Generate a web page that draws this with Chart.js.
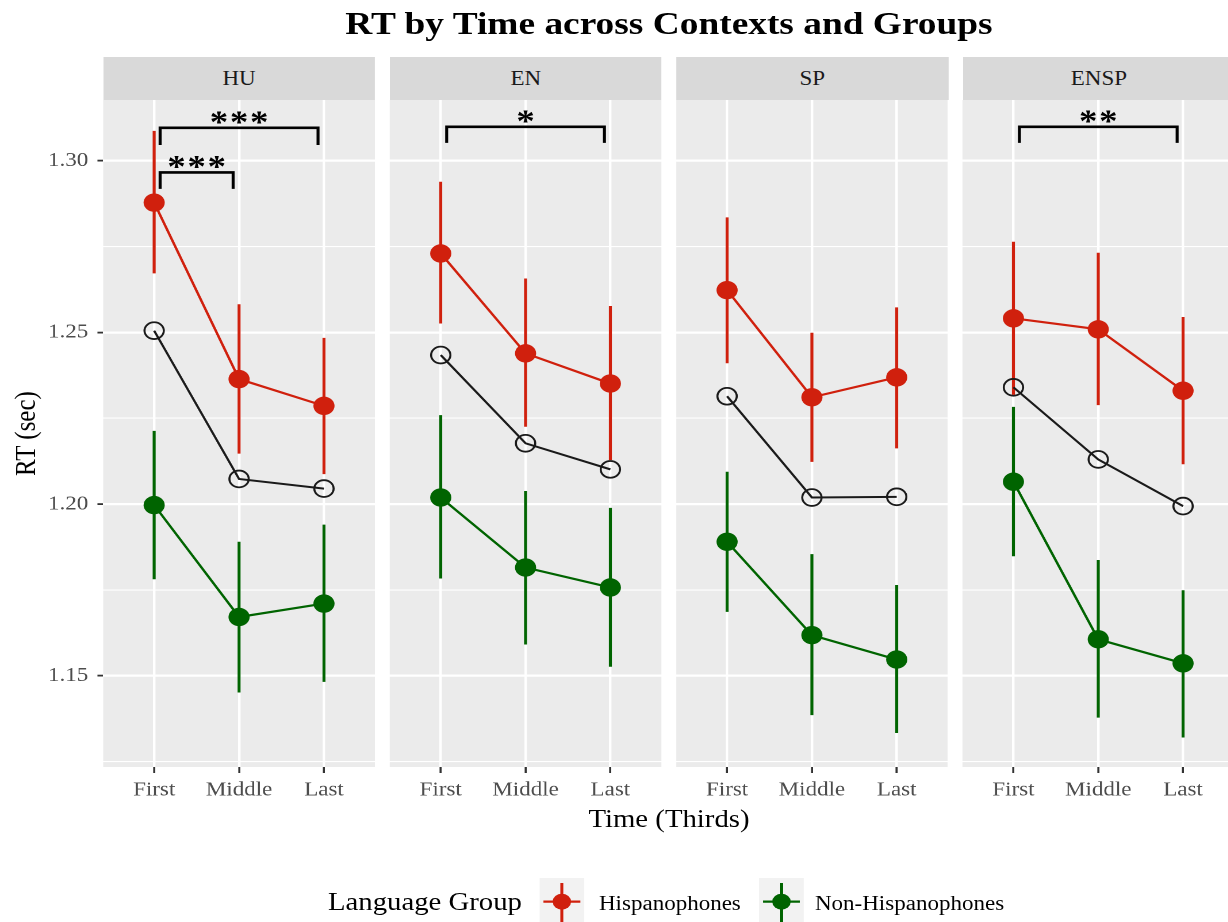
<!DOCTYPE html>
<html>
<head>
<meta charset="utf-8">
<script src="https://cdn.jsdelivr.net/npm/chart.js@4.4.1/dist/chart.umd.min.js"></script>
<style>
html, body { margin: 0; padding: 0; background: #fff; overflow: hidden; width: 1228px; height: 922px; }
#page { position: absolute; left: 0; top: 0; height: 922px; transform-origin: 0 0;
        font-family: 'Liberation Serif', 'Times New Roman', serif; }
.abs { position: absolute; white-space: nowrap; }
.strip { position: absolute; background: #D9D9D9; color: #1A1A1A; font-size: 20px;
         display: flex; align-items: center; justify-content: center; }
canvas { position: absolute; }
</style>
</head>
<body>
<div id="page"></div>
<script>
// ---- data ----
const contexts = ['HU', 'EN', 'SP', 'ENSP'];
const times = ['First', 'Middle', 'Last'];
const groups = ['Hispanophones', 'Non-Hispanophones'];

// one row per context, one value per third
const hispMean = [
    [1.2878, 1.2364, 1.2286],
    [1.2730, 1.2439, 1.2351],
    [1.2623, 1.2311, 1.2369],
    [1.2541, 1.2509, 1.2330]
];
const hispLow = [
    [1.2672, 1.2147, 1.2087],
    [1.2526, 1.2225, 1.2128],
    [1.2410, 1.2123, 1.2162],
    [1.2318, 1.2288, 1.2116]
];
const hispHigh = [
    [1.3087, 1.2582, 1.2484],
    [1.2939, 1.2657, 1.2577],
    [1.2835, 1.2499, 1.2573],
    [1.2764, 1.2732, 1.2545]
];
const nonMean = [
    [1.1997, 1.1671, 1.1710],
    [1.2019, 1.1815, 1.1757],
    [1.1890, 1.1618, 1.1547],
    [1.2065, 1.1606, 1.1536]
];
const nonLow = [
    [1.1781, 1.1451, 1.1482],
    [1.1783, 1.1591, 1.1526],
    [1.1686, 1.1385, 1.1333],
    [1.1848, 1.1378, 1.1320]
];
const nonHigh = [
    [1.2213, 1.1890, 1.1940],
    [1.2259, 1.2038, 1.1989],
    [1.2094, 1.1854, 1.1764],
    [1.2283, 1.1837, 1.1749]
];
const allMean = [
    [1.2505, 1.2073, 1.2045],
    [1.2434, 1.2177, 1.2101],
    [1.2314, 1.2019, 1.2021],
    [1.2340, 1.2130, 1.1994]
];

const yMajorTicks = [1.15, 1.20, 1.25, 1.30];
const yMinorTicks = [1.125, 1.175, 1.225, 1.275];
const yMin = 1.1234;
const yMax = 1.3177;

// significance brackets
const bracketContext = [0, 0, 1, 3];
const bracketFrom = [0, 0, 0, 0];
const bracketTo = [2, 1, 2, 2];
const bracketLine = [1.3096, 1.2966, 1.3099, 1.3099];
const bracketTip = [1.3046, 1.2918, 1.3052, 1.3052];
const bracketLabel = ['***', '***', '*', '**'];

// ---- layout (picture is stretched horizontally) ----
const S = 1.15;
const panelLeft0 = 103.3, panelStep = 286.6, panelW = 271.7;
const panelTop = 100, panelBottom = 767, xAxisH = 50;
const RED = '#D0200D', GREEN = '#006400', BLACK = '#1A1A1A';
const FONT = "'Liberation Serif', 'Times New Roman', serif";

const page = document.getElementById('page');
page.style.width = (1228 / S) + 'px';
page.style.transform = 'scaleX(' + S + ')';

function addText(txt, left, top, size, opts = {}) {
    const d = document.createElement('div');
    d.className = 'abs';
    d.textContent = txt;
    d.style.left = left + 'px';
    d.style.top = top + 'px';
    d.style.fontSize = size + 'px';
    d.style.lineHeight = size + 'px';
    d.style.color = opts.color || '#000';
    if (opts.bold) d.style.fontWeight = 'bold';
    if (opts.width) { d.style.width = opts.width + 'px'; d.style.textAlign = 'center'; }
    page.appendChild(d);
    return d;
}

// title
addText('RT by Time across Contexts and Groups', 669 / S - 400, 34 - 0.8375 * 32.5, 32.5, { bold: true, width: 800 });
// x axis title
addText('Time (Thirds)', 669 / S - 200, 826.7 - 0.8375 * 25, 25, { width: 400 });
// y axis title (rotated)
const yt = addText('RT (sec)', 22 - 100, (panelTop + panelBottom) / 2 - 12.5, 25, { width: 200 });
yt.style.transform = 'rotate(-90deg)';

// legend
addText('Language Group', 328 / S, 910 - 0.8375 * 25, 25);
function legendKey(left, color) {
    const w = 45 / S;
    const ns = 'http://www.w3.org/2000/svg';
    const svg = document.createElementNS(ns, 'svg');
    svg.setAttribute('width', w);
    svg.setAttribute('height', 45);
    svg.style.position = 'absolute';
    svg.style.left = left + 'px';
    svg.style.top = '878px';
    svg.innerHTML =
        '<rect x="0" y="0" width="' + w + '" height="45" fill="#F2F2F2"/>' +
        '<line x1="' + w / 2 + '" y1="5" x2="' + w / 2 + '" y2="45" stroke="' + color + '" stroke-width="2.6"/>' +
        '<line x1="3.5" y1="23.7" x2="' + (w - 3.5) + '" y2="23.7" stroke="' + color + '" stroke-width="2.2"/>' +
        '<circle cx="' + w / 2 + '" cy="23.7" r="8" fill="' + color + '"/>';
    page.appendChild(svg);
}
legendKey(539 / S, RED);
addText(groups[0], 599 / S, 909.3 - 0.8375 * 20, 20);
legendKey(759 / S, GREEN);
addText(groups[1], 815 / S, 909.3 - 0.8375 * 20, 20);

// ---- plugins ----
const panelBg = {
    id: 'panelBg',
    beforeDraw(chart) {
        const a = chart.chartArea, ctx = chart.ctx;
        ctx.save();
        ctx.fillStyle = '#EBEBEB';
        ctx.fillRect(a.left, a.top, a.right - a.left, a.bottom - a.top);
        ctx.restore();
    }
};

const errorBars = {
    id: 'errorBars',
    beforeDatasetsDraw(chart) {
        const ctx = chart.ctx, x = chart.scales.x, y = chart.scales.y;
        chart.data.datasets.forEach(ds => {
            if (!ds.errLow) return;
            ctx.save();
            ctx.strokeStyle = ds.borderColor;
            ctx.lineWidth = 2.6;
            ds.errLow.forEach((lo, i) => {
                const px = x.getPixelForValue(i);
                ctx.beginPath();
                ctx.moveTo(px, y.getPixelForValue(lo));
                ctx.lineTo(px, y.getPixelForValue(ds.errHigh[i]));
                ctx.stroke();
            });
            ctx.restore();
        });
    }
};

function bracketPlugin(p) {
    return {
        id: 'brackets',
        afterDatasetsDraw(chart) {
            const ctx = chart.ctx, x = chart.scales.x, y = chart.scales.y;
            bracketContext.forEach((c, b) => {
                if (c !== p) return;
                const x1 = x.getPixelForValue(bracketFrom[b] + 0.07);
                const x2 = x.getPixelForValue(bracketTo[b] - 0.07);
                const yl = y.getPixelForValue(bracketLine[b]);
                const yt = y.getPixelForValue(bracketTip[b]);
                ctx.save();
                ctx.strokeStyle = '#000';
                ctx.lineWidth = 2.6;
                ctx.beginPath();
                ctx.moveTo(x1, yt);
                ctx.lineTo(x1, yl);
                ctx.lineTo(x2, yl);
                ctx.lineTo(x2, yt);
                ctx.stroke();
                // stars
                const lab = bracketLabel[b];
                const mid = (x1 + x2) / 2;
                ctx.fillStyle = '#000';
                ctx.font = 'bold 32px ' + FONT;
                ctx.textAlign = 'center';
                ctx.textBaseline = 'alphabetic';
                for (let k = 0; k < lab.length; k++) {
                    ctx.fillText(lab[k], mid + (k - (lab.length - 1) / 2) * 17.5, yl + 4.5);
                }
                ctx.restore();
            });
        }
    };
}

// ---- panels ----
const panelWu = panelW / S;
const canvas0W = Math.round((panelLeft0 + panelW) / S);
const yAxisW = canvas0W - panelWu;
const yGridTicks = yMinorTicks.concat(yMajorTicks).sort((a, b) => a - b);

function series(label, means, lo, hi, color) {
    return {
        label: label,
        data: means.map((v, i) => ({ x: i, y: v })),
        borderColor: color,
        backgroundColor: color,
        pointBackgroundColor: color,
        pointBorderWidth: 0,
        pointRadius: 9.2,
        borderWidth: 2.2,
        errLow: lo,
        errHigh: hi
    };
}

contexts.forEach((name, p) => {
    const first = p === 0;
    const pl = (panelLeft0 + p * panelStep) / S;

    // strip
    const st = document.createElement('div');
    st.className = 'strip';
    st.textContent = name;
    st.style.left = pl + 'px';
    st.style.width = panelWu + 'px';
    st.style.top = '56.7px';
    st.style.height = (panelTop - 56.7) + 'px';
    page.appendChild(st);

    const cv = document.createElement('canvas');
    const w = first ? canvas0W : Math.round(panelWu);
    const h = panelBottom - panelTop + xAxisH;
    cv.width = w;
    cv.height = h;
    cv.style.left = (first ? 0 : pl) + 'px';
    cv.style.top = panelTop + 'px';
    page.appendChild(cv);

    new Chart(cv.getContext('2d'), {
        type: 'line',
        data: {
            datasets: [
                {
                    label: 'All',
                    data: allMean[p].map((v, i) => ({ x: i, y: v })),
                    borderColor: BLACK,
                    borderWidth: 2,
                    pointRadius: 8.4,
                    pointBackgroundColor: 'rgba(0,0,0,0)',
                    pointBorderColor: BLACK,
                    pointBorderWidth: 1.8
                },
                series(groups[0], hispMean[p], hispLow[p], hispHigh[p], RED),
                series(groups[1], nonMean[p], nonLow[p], nonHigh[p], GREEN)
            ]
        },
        options: {
            responsive: false,
            animation: false,
            devicePixelRatio: 2,
            events: [],
            layout: { padding: 0, autoPadding: false },
            plugins: { legend: { display: false }, tooltip: { enabled: false } },
            scales: {
                x: {
                    type: 'linear',
                    min: -0.6,
                    max: 2.6,
                    afterBuildTicks: s => { s.ticks = times.map((t, i) => ({ value: i })); },
                    afterFit: s => { s.height = xAxisH; s.paddingLeft = 0; s.paddingRight = 0; },
                    ticks: {
                        callback: v => times[v],
                        color: '#4D4D4D',
                        font: { family: FONT, size: 20 },
                        padding: 5,
                        maxRotation: 0,
                        autoSkip: false
                    },
                    grid: { color: '#FFFFFF', lineWidth: 2.2, tickColor: '#333333', tickLength: 6, tickWidth: 1.8 },
                    border: { display: false }
                },
                y: {
                    type: 'linear',
                    min: yMin,
                    max: yMax,
                    afterBuildTicks: s => { s.ticks = yGridTicks.map(v => ({ value: v })); },
                    afterFit: s => { s.width = first ? yAxisW : 0; s.paddingTop = 0; s.paddingBottom = 0; },
                    ticks: {
                        display: first,
                        callback: v => yMajorTicks.includes(v) ? v.toFixed(2) : '',
                        color: '#4D4D4D',
                        font: { family: FONT, size: 20 },
                        padding: 8,
                        autoSkip: false
                    },
                    grid: {
                        color: '#FFFFFF',
                        lineWidth: c => yMajorTicks.includes(c.tick.value) ? 2.2 : 1.1,
                        tickColor: c => yMajorTicks.includes(c.tick.value) ? '#333333' : 'rgba(0,0,0,0)',
                        tickLength: 5,
                        tickWidth: 1.8,
                        drawTicks: first
                    },
                    border: { display: false }
                }
            }
        },
        plugins: [panelBg, errorBars, bracketPlugin(p)]
    });
});
</script>
</body>
</html>
